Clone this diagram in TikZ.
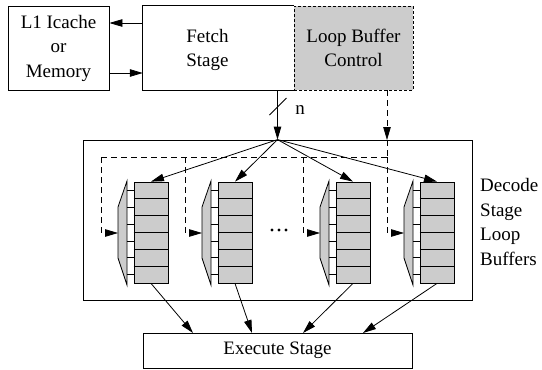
\documentclass[tikz,border=0pt]{standalone}
\usepackage{fontspec}
\setmainfont{Liberation Serif}
\usetikzlibrary{arrows.meta,calc}
\definecolor{boxgray}{RGB}{204,204,204}
\tikzset{
  txt/.style={font=\fontsize{19}{24.5}\selectfont, align=center, inner sep=0pt},
  blk/.style={draw, line width=0.8pt, inner sep=0pt, txt},
  arr/.style={line width=0.8pt, -{Triangle[length=13pt,width=7.5pt]}},
  dsh/.style={line width=0.8pt, dash pattern=on 6pt off 4pt},
  bufbox/.style={draw, line width=0.8pt, fill=boxgray, minimum width=34pt, minimum height=101pt, inner sep=0pt},
  muxbody/.style={draw, line width=0.8pt, fill=boxgray},
  stub/.style={line width=0.6pt}
}
\begin{document}
\begin{tikzpicture}[x=1pt,y=-1pt]
\useasboundingbox (0,0) rectangle (542,370);

% memory and fetch stage
\node[blk, minimum width=101pt, minimum height=84pt] (l1) at (58.5,48) {L1 Icache\\or\\Memory};
\node[inner sep=0pt, minimum width=151pt, minimum height=84pt] (fetch) at (218.5,48) {};
\draw[line width=0.8pt] (fetch.north east) -- (fetch.north west) -- (fetch.south west) -- (fetch.south east);
\node[txt] (fetchtxt) at (207.5,50) {Fetch\\Stage};
\node[blk, fill=boxgray, dash pattern=on 3pt off 2pt, minimum width=119pt, minimum height=84pt] (lbc) at (353.5,48) {Loop Buffer\\Control};

\draw[arr] (fetch.west |- 0,23) -- (l1.east |- 0,23);
\draw[arr] (l1.east |- 0,73) -- (fetch.west |- 0,73);

% decode stage and execute stage
\node[draw, line width=0.8pt, minimum width=389pt, minimum height=160pt, inner sep=0pt] (decode) at (277.5,220) {};
\node[blk, minimum width=269pt, minimum height=35pt] (exec) at (277.5,350.5) {Execute Stage};
\node[txt, align=left, anchor=west] (declabel) at (480,222) {Decode\\Stage\\Loop\\Buffers};

% n-bit path from fetch
\coordinate (fan) at (decode.north);
\draw[arr] (fetch.south -| fan) -- (fan);
\coordinate (nmid) at (278,106.5);
\draw[line width=0.8pt] ([shift={(-8.5,8.5)}]nmid) -- ([shift={(8.5,-8.5)}]nmid);
\node[txt] (nlab) at (300,110) {n};

% loop buffer control line
\coordinate (ctltop) at (387,90);
\coordinate (ctlin) at (387,140);
\draw[dsh, arr] (ctltop) -- (ctlin);

% buffers with their multiplexers
\foreach \i/\bl in {1/134, 2/218, 3/336, 4/420} {
  \node[bufbox] (b\i) at (\bl+17,232.5) {};
  \foreach \k in {1,...,5}
    \draw[line width=0.8pt] ($(b\i.north west)!\k/6!(b\i.south west)$) -- ($(b\i.north east)!\k/6!(b\i.south east)$);
  \draw[muxbody] (\bl-7,181) -- (\bl-16,207) -- (\bl-16,258) -- (\bl-7,285) -- cycle;
  \coordinate (m\i) at (\bl-16,233);
  \foreach \k in {0,...,5}
    \draw[stub] (\bl-7,{182+101/6*(\k+0.5)}) -- (\bl,{182+101/6*(\k+0.5)});
  \coordinate (d\i) at (\bl-33,157);
  \draw[dsh, arr] (d\i) -- (d\i |- m\i) -- (m\i);
  \draw[arr] (fan) -- (b\i.north);
}
\draw[dsh] (d1) -- (d4);
\draw[dsh] (ctlin) -- (d4);

% outputs to execute stage
\coordinate (e1) at (193,333);
\coordinate (e2) at (252,333);
\coordinate (e3) at (303,333);
\coordinate (e4) at (363,333);
\foreach \i in {1,...,4}
  \draw[arr] (b\i.south) -- (e\i);

% ellipsis between buffers
\foreach \x in {272,279,286}
  \fill (\x,230) circle (1.6pt);
\end{tikzpicture}
\end{document}
